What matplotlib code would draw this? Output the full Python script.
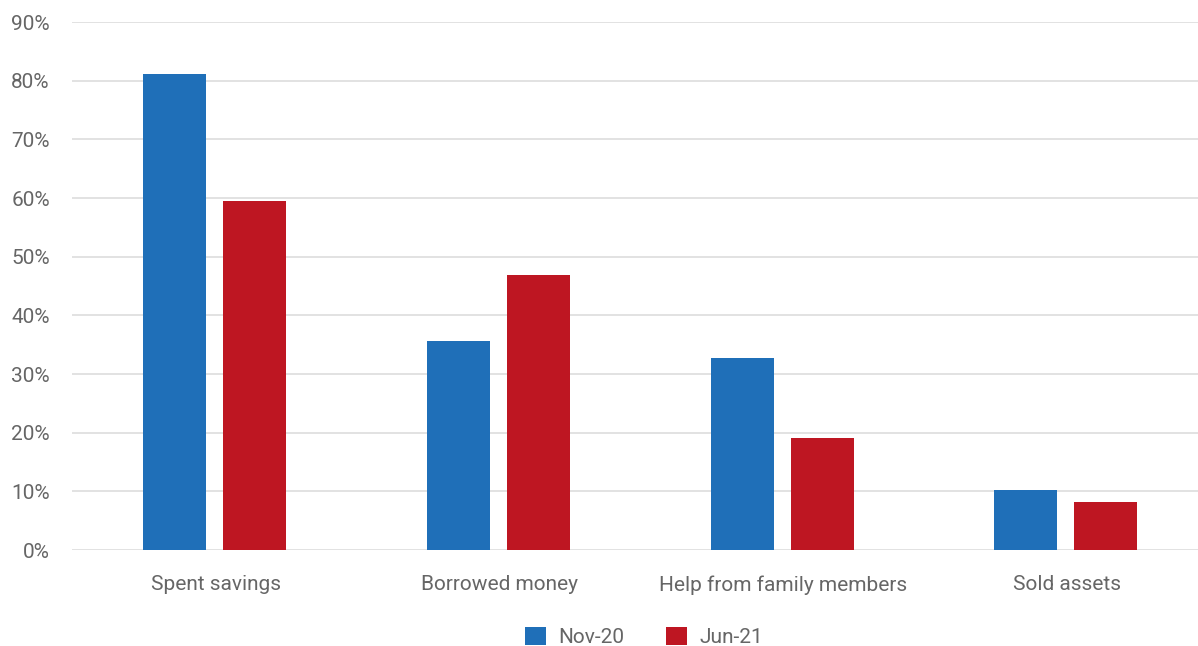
import numpy as np
from matplotlib import pyplot as plt

plt.rcParams['font.family'] = ['Roboto', 'DejaVu Sans']

categories = ["Spent savings", "Borrowed money", "Help from family members", "Sold assets"]
nov20 = [81.1, 35.6, 32.7, 10.2]
jun21 = [59.5, 46.9, 19.1, 8.2]
yticks = [0, 10, 20, 30, 40, 50, 60, 70, 80, 90]

blue = "#1f6fb8"
red = "#be1622"
grey = "#666666"

fig = plt.figure(figsize=(11.98, 6.46), dpi=100)
ax = fig.add_axes([72/1198, 1-550/646, 1-72/1198, (550-22)/646])

x = np.arange(len(categories))
w = 0.222
ax.bar(x - 0.145, nov20, w, color=blue, label="Nov-20", zorder=3)
ax.bar(x + 0.137, jun21, w, color=red, label="Jun-21", zorder=3)

ax.set_xlim(-0.507, 3.462)
ax.set_ylim(0, 90)
ax.set_yticks(yticks)
ax.set_yticklabels(["%d%%" % t for t in yticks])
ax.set_xticks(x)
ax.set_xticklabels(categories)
ax.tick_params(axis='both', length=0, labelsize=15, colors=grey)
ax.tick_params(axis='y', pad=16)
ax.tick_params(axis='x', pad=18)
ax.grid(axis='y', color="#dddddd", linewidth=1.2, zorder=0)
for s in ax.spines.values():
    s.set_visible(False)

ax.legend(loc='upper center', bbox_to_anchor=(0.508, -0.11), ncol=2, frameon=False,
          fontsize=15, labelcolor=grey, handlelength=1.0, handleheight=1.0,
          columnspacing=2.0, handletextpad=0.6)

fig.savefig("out.png", dpi=100)
